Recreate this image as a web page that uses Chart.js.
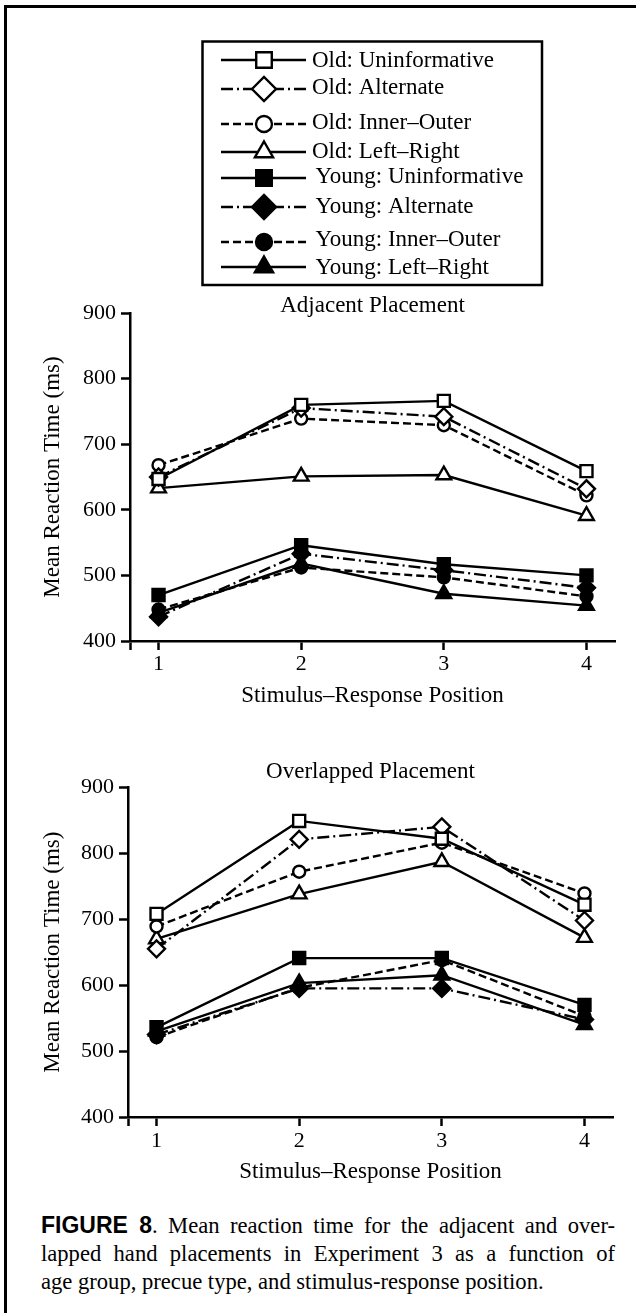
<!DOCTYPE html>
<html>
<head>
<meta charset="utf-8">
<script src="https://cdn.jsdelivr.net/npm/chart.js"></script>
<style>
  body { margin: 0; background: #fff; width: 636px; height: 1313px; overflow: hidden; position: relative; }
  #frame { position: absolute; left: 4px; top: 5px; width: 700px; height: 1400px;
           border-left: 3px solid #000; border-top: 3px solid #000; }
  canvas { position: absolute; left: 0; }
  #caption { position: absolute; left: 41px; top: 1211px; width: 574px;
             font-family: "Liberation Serif", "Times New Roman", serif; font-size: 22.6px; line-height: 28px; color: #000; }
  #caption .just { text-align: justify; text-align-last: justify; }
  #caption b { font-family: "Liberation Sans", Arial, sans-serif; font-size: 23px; }
</style>
</head>
<body>
<div id="frame"></div>
<canvas id="adjacentChart" width="636" height="720" style="top:0"></canvas>
<canvas id="overlappedChart" width="636" height="470" style="top:730px"></canvas>
<div id="caption">
  <div class="just"><b>FIGURE 8</b>. Mean reaction time for the adjacent and over-</div>
  <div class="just">lapped hand placements in Experiment 3 as a function of</div>
  <div>age group, precue type, and stimulus-response position.</div>
</div>
<script>
document.addEventListener('DOMContentLoaded', function () {

const positions = [1, 2, 3, 4];
const yTicks = [400, 500, 600, 700, 800, 900];

const seriesNames = [
  'Old: Uninformative',
  'Old: Alternate',
  'Old: Inner–Outer',
  'Old: Left–Right',
  'Young: Uninformative',
  'Young: Alternate',
  'Young: Inner–Outer',
  'Young: Left–Right'
];

// Adjacent placement (ms)
const adjOldUninformative = [647, 760, 766, 659];
const adjOldAlternate = [650, 755, 742, 632];
const adjOldInnerOuter = [668, 739, 729, 622];
const adjOldLeftRight = [633, 651, 653, 591];
const adjYoungUninformative = [470, 546, 517, 500];
const adjYoungAlternate = [437, 533, 508, 481];
const adjYoungInnerOuter = [448, 512, 497, 468];
const adjYoungLeftRight = [443, 518, 472, 454];

// Overlapped placement (ms)
const ovlOldUninformative = [708, 849, 822, 722];
const ovlOldAlternate = [655, 821, 840, 698];
const ovlOldInnerOuter = [689, 772, 816, 739];
const ovlOldLeftRight = [670, 738, 787, 672];
const ovlYoungUninformative = [536, 641, 641, 570];
const ovlYoungAlternate = [525, 595, 595, 548];
const ovlYoungInnerOuter = [521, 596, 638, 553];
const ovlYoungLeftRight = [530, 603, 615, 540];

const SERIF = '"Liberation Serif", "Times New Roman", serif';
const DASHED = [8, 4];
const DASH_DOT = [12, 4, 2, 4];

// marker / line look of each series, same order as seriesNames
const seriesStyles = [
  { pointStyle: 'rect',     filled: false, dash: [],       radius: 8.5, legendRadius: 11 },
  { pointStyle: 'rectRot',  filled: false, dash: DASH_DOT, radius: 8.5, legendRadius: 12 },
  { pointStyle: 'circle',   filled: false, dash: DASHED,   radius: 6,   legendRadius: 8 },
  { pointStyle: 'triangle', filled: false, dash: [],       radius: 8.5, legendRadius: 10.5 },
  { pointStyle: 'rect',     filled: true,  dash: [],       radius: 8.5, legendRadius: 11 },
  { pointStyle: 'rectRot',  filled: true,  dash: DASH_DOT, radius: 8.5, legendRadius: 12 },
  { pointStyle: 'circle',   filled: true,  dash: DASHED,   radius: 6,   legendRadius: 8 },
  { pointStyle: 'triangle', filled: true,  dash: [],       radius: 8.5, legendRadius: 10.5 }
];

Chart.defaults.font.family = SERIF;
Chart.defaults.color = '#000';

function makeDatasets(seriesValues) {
  return seriesValues.map((values, i) => {
    const st = seriesStyles[i];
    return {
      label: seriesNames[i],
      data: positions.map((x, j) => ({ x: x, y: values[j] })),
      borderColor: '#000',
      borderWidth: 2.4,
      borderDash: st.dash,
      tension: 0,
      pointStyle: st.pointStyle,
      pointRadius: st.radius,
      pointBorderWidth: 2.4,
      pointBorderColor: '#000',
      pointBackgroundColor: st.filled ? '#000' : '#fff'
    };
  });
}

// legend box drawn on the top canvas
const legendMarkY = [60, 89, 124, 152, 178, 207, 242, 267];
const legendBaseY = [67, 94, 129, 158, 183, 212.5, 246, 274];
const legendTextX = [312, 312, 312, 312, 315.5, 315.5, 315.5, 315.5];

const figureLegend = {
  id: 'figureLegend',
  afterDraw(chart) {
    const ctx = chart.ctx;
    ctx.save();
    ctx.strokeStyle = '#000';
    ctx.lineWidth = 2.5;
    ctx.setLineDash([]);
    ctx.strokeRect(202.5, 41.5, 339.5, 243.5);
    seriesNames.forEach((name, i) => {
      const st = seriesStyles[i];
      const y = legendMarkY[i];
      ctx.lineWidth = 2.4;
      ctx.setLineDash(st.dash);
      ctx.beginPath(); ctx.moveTo(221, y); ctx.lineTo(264, y); ctx.stroke();
      ctx.beginPath(); ctx.moveTo(306, y); ctx.lineTo(264, y); ctx.stroke();
      ctx.setLineDash([]);
      ctx.fillStyle = st.filled ? '#000' : '#fff';
      Chart.helpers.drawPoint(ctx, { pointStyle: st.pointStyle, radius: st.legendRadius, rotation: 0, borderWidth: 2.4 }, 264, y);
      ctx.fillStyle = '#000';
      ctx.font = '23px ' + SERIF;
      ctx.textBaseline = 'alphabetic';
      ctx.textAlign = 'left';
      ctx.fillText(name, legendTextX[i], legendBaseY[i]);
    });
    ctx.restore();
  }
};

function makeChart(id, titleText, seriesValues, g, extraPlugins) {
  return new Chart(document.getElementById(id), {
    type: 'line',
    data: { datasets: makeDatasets(seriesValues) },
    options: {
      responsive: false,
      animation: false,
      events: [],
      layout: { padding: { top: g.padTop, left: 20, right: 636 - g.right, bottom: 0 } },
      plugins: {
        legend: { display: false },
        tooltip: { enabled: false },
        title: {
          display: true,
          text: titleText,
          color: '#000',
          fullSize: false,
          font: { family: SERIF, size: 23, weight: 'normal', lineHeight: 0.5 },
          padding: { top: 0, bottom: g.titleGap }
        }
      },
      scales: {
        x: {
          type: 'linear',
          min: 0.8,
          max: 4.2,
          afterBuildTicks: s => { s.ticks = [s.min].concat(positions).map(v => ({ value: v })); },
          afterFit: s => { s.height = g.canvasH - g.bottom; },
          ticks: {
            autoSkip: false,
            maxRotation: 0,
            padding: g.labelPad,
            color: '#000',
            font: { size: 22 },
            callback: v => positions.includes(v) ? String(v) : ''
          },
          grid: { drawOnChartArea: false, tickLength: 9, tickWidth: 2.5, tickColor: '#000' },
          border: { color: '#000', width: 2.5 },
          title: {
            display: true,
            text: 'Stimulus–Response Position',
            color: '#000',
            font: { size: 23 },
            padding: { top: 0, bottom: g.xTitlePad }
          }
        },
        y: {
          min: yTicks[0],
          max: yTicks[yTicks.length - 1],
          afterBuildTicks: s => { s.ticks = yTicks.map(v => ({ value: v })); },
          afterFit: s => { s.width = g.left - 20; },
          ticks: { padding: 5, color: '#000', font: { size: 22 } },
          grid: { drawOnChartArea: false, tickLength: 9, tickWidth: 2.5, tickColor: '#000' },
          border: { color: '#000', width: 2.5 },
          title: {
            display: true,
            text: 'Mean Reaction Time (ms)',
            color: '#000',
            font: { size: 23 },
            padding: { top: 19, bottom: 0 }
          }
        }
      }
    },
    plugins: extraPlugins || []
  });
}

makeChart('adjacentChart', 'Adjacent Placement', [
  adjOldUninformative, adjOldAlternate, adjOldInnerOuter, adjOldLeftRight,
  adjYoungUninformative, adjYoungAlternate, adjYoungInnerOuter, adjYoungLeftRight
], { padTop: 299.75, titleGap: 1.75, left: 130, right: 615, bottom: 641, canvasH: 720, labelPad: 1, xTitlePad: 10 },
[figureLegend]);

makeChart('overlappedChart', 'Overlapped Placement', [
  ovlOldUninformative, ovlOldAlternate, ovlOldInnerOuter, ovlOldLeftRight,
  ovlYoungUninformative, ovlYoungAlternate, ovlYoungInnerOuter, ovlYoungLeftRight
], { padTop: 36.5, titleGap: 9.3, left: 128, right: 613, bottom: 387, canvasH: 470, labelPad: 2.5, xTitlePad: 14 });

});
</script>
</body>
</html>
